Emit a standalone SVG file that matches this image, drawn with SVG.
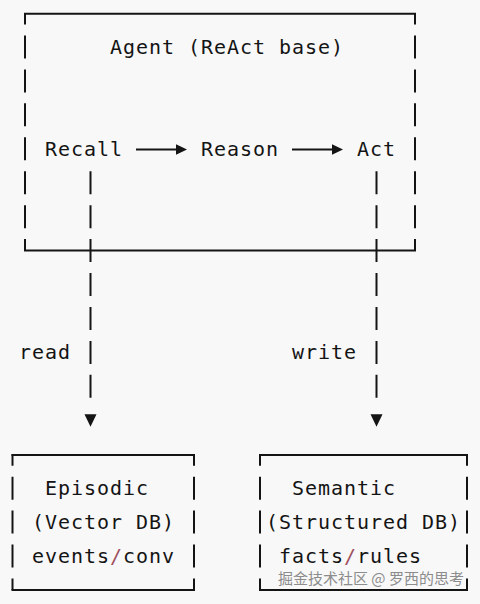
<svg xmlns="http://www.w3.org/2000/svg" width="480" height="604" viewBox="0 0 480 604">
  <defs>
    <style>
      .t { font-family: "DejaVu Sans Mono", "Liberation Mono", monospace; font-size: 20px; letter-spacing: 0.96px; fill: #141414; }
      .sl { fill: #a0505e; }
      .edge { stroke: #141414; stroke-width: 2; fill: none; }
      .dash { stroke: #141414; stroke-width: 2; fill: none; stroke-dasharray: 23 10.94; }
      .border { stroke: #141414; stroke-width: 2; fill: none; stroke-dasharray: 23 10.94; stroke-dashoffset: 11.5; }
      .wm { font-family: "Noto Sans CJK SC", sans-serif; font-size: 15px; fill: #8c8c8c; }
    </style>
    <marker id="ah" markerUnits="userSpaceOnUse" markerWidth="12" markerHeight="12" refX="0" refY="0" orient="auto" overflow="visible">
      <path d="M0,-5.3 L11,0 L0,5.3 Z" fill="#141414"/>
    </marker>
    <marker id="down" markerUnits="userSpaceOnUse" markerWidth="14" markerHeight="14" refX="-16.5" refY="0" orient="auto" overflow="visible">
      <path d="M0,-6 L12.4,0 L0,6 Z" fill="#141414"/>
    </marker>
  </defs>
  <rect width="480" height="604" fill="#f8f8f8"/>

  <g id="agent">
    <line class="edge" x1="24" y1="13.8" x2="416" y2="13.8"/>
    <line class="edge" x1="24" y1="250.6" x2="416" y2="250.6"/>
    <line class="border" x1="25" y1="13" x2="25" y2="250.6"/>
    <line class="border" x1="415" y1="13" x2="415" y2="250.6"/>
    <text class="t" x="110" y="54">Agent (ReAct base)</text>
  </g>
  <g id="recall"><text class="t" x="45" y="155.8">Recall</text></g>
  <g id="reason"><text class="t" x="201" y="155.8">Reason</text></g>
  <g id="act"><text class="t" x="357" y="155.8">Act</text></g>

  <g id="episodic">
    <line class="edge" x1="11.5" y1="455" x2="195" y2="455"/>
    <line class="edge" x1="11.5" y1="590" x2="195" y2="590"/>
    <line class="border" x1="12.5" y1="454.2" x2="12.5" y2="590"/>
    <line class="border" x1="194" y1="454.2" x2="194" y2="590"/>
    <text class="t" x="45" y="495.2">Episodic</text>
    <text class="t" x="32" y="529.1">(Vector DB)</text>
    <text class="t" x="32" y="563">events<tspan class="sl">/</tspan>conv</text>
  </g>

  <g id="semantic">
    <line class="edge" x1="259" y1="455" x2="468" y2="455"/>
    <line class="edge" x1="259" y1="590" x2="468" y2="590"/>
    <line class="border" x1="260" y1="454.2" x2="260" y2="590"/>
    <line class="border" x1="467" y1="454.2" x2="467" y2="590"/>
    <text class="t" x="292" y="495.2">Semantic</text>
    <text class="t" x="266" y="529.1">(Structured DB)</text>
    <text class="t" x="279" y="563">facts<tspan class="sl">/</tspan>rules</text>
  </g>

  <g id="connectors">
    <line class="edge" x1="136" y1="149.5" x2="176" y2="149.5" marker-end="url(#ah)"/>
    <line class="edge" x1="292" y1="149.5" x2="332" y2="149.5" marker-end="url(#ah)"/>
    <line class="dash" x1="90.5" y1="171.2" x2="90.5" y2="397.8" marker-end="url(#down)"/>
    <line class="dash" x1="376.5" y1="171.2" x2="376.5" y2="397.8" marker-end="url(#down)"/>
    <text class="t" x="19" y="359.4">read</text>
    <text class="t" x="292" y="359.4">write</text>
  </g>

  <text class="wm" x="278" y="584">掘金技术社区 @ 罗西的思考</text>
</svg>
